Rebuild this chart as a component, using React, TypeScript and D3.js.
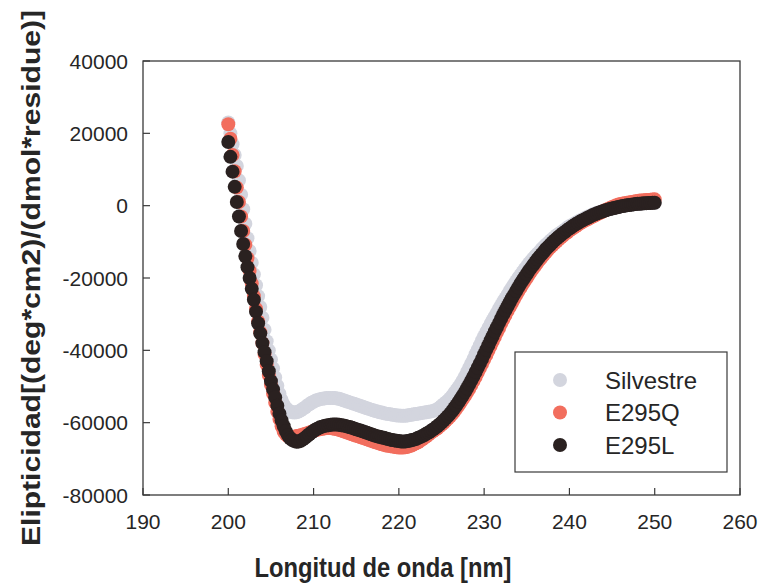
import * as d3 from 'd3';

// wavelength grid of the spectra (nm)
const wlStart = 200;
const wlStep = 0.25;

const xTicks = [190, 200, 210, 220, 230, 240, 250, 260];
const yTicks = [40000, 20000, 0, -20000, -40000, -60000, -80000];

// Silvestre
const silvestre = [
  23000, 20000, 17000, 14000,
  11000, 7000, 3000, -1000,
  -5000, -9000, -12500, -15800,
  -19000, -22000, -25000, -28000,
  -31000, -34300, -37500, -40000,
  -42500, -45000, -47500, -49800,
  -52000, -53700, -55000, -56000,
  -56500, -56900, -57100, -57200,
  -57100, -56900, -56600, -56200,
  -55800, -55300, -54900, -54500,
  -54200, -53900, -53700, -53500,
  -53400, -53300, -53200, -53200,
  -53200, -53200, -53200, -53300,
  -53400, -53600, -53800, -54000,
  -54200, -54400, -54600, -54800,
  -55000, -55200, -55400, -55600,
  -55800, -56000, -56200, -56400,
  -56600, -56800, -56900, -57100,
  -57200, -57400, -57500, -57600,
  -57700, -57800, -57900, -58000,
  -58000, -58100, -58100, -58100,
  -58000, -57900, -57800, -57700,
  -57600, -57500, -57400, -57300,
  -57200, -57100, -57000, -56900,
  -56800, -56600, -56300, -55900,
  -55400, -54900, -54400, -53900,
  -53300, -52600, -51800, -51000,
  -50200, -49300, -48300, -47200,
  -46000, -44800, -43600, -42400,
  -41100, -39800, -38600, -37300,
  -36100, -34900, -33800, -32700,
  -31700, -30600, -29600, -28500,
  -27500, -26500, -25600, -24600,
  -23600, -22700, -21800, -20900,
  -20000, -19200, -18400, -17600,
  -16800, -16000, -15300, -14600,
  -13900, -13300, -12700, -12000,
  -11400, -10800, -10300, -9700,
  -9200, -8700, -8200, -7800,
  -7400, -7000, -6600, -6100,
  -5700, -5400, -5100, -4700,
  -4400, -4100, -3800, -3500,
  -3200, -2900, -2700, -2400,
  -2200, -2000, -1800, -1600,
  -1400, -1200, -1050, -900,
  -750, -600, -450, -300,
  -180, -80, 30, 120,
  220, 300, 370, 440,
  500, 550, 600, 650,
  700, 720, 750, 780,
  800,
];

// E295Q
const e295q = [
  22500, 18500, 14000, 9500,
  5000, 1000, -3000, -7000,
  -10800, -14500, -18000, -21500,
  -25000, -28500, -32000, -35000,
  -38000, -41000, -44000, -46800,
  -49500, -52000, -54500, -57000,
  -59000, -61000, -62500, -63300,
  -63800, -64000, -64000, -63900,
  -63700, -63600, -63500, -63300,
  -63100, -62900, -62700, -62500,
  -62300, -62100, -61900, -61800,
  -61700, -61600, -61500, -61500,
  -61500, -61600, -61700, -61800,
  -62000, -62200, -62400, -62600,
  -62800, -63000, -63200, -63400,
  -63600, -63800, -64000, -64200,
  -64400, -64600, -64800, -65000,
  -65200, -65400, -65600, -65800,
  -66000, -66100, -66300, -66400,
  -66500, -66600, -66700, -66800,
  -66900, -66900, -66900, -66800,
  -66700, -66500, -66300, -66000,
  -65700, -65400, -65000, -64600,
  -64200, -63800, -63300, -62800,
  -62400, -62000, -61600, -61100,
  -60600, -60100, -59500, -58900,
  -58300, -57600, -56900, -56100,
  -55300, -54400, -53500, -52600,
  -51700, -50700, -49600, -48500,
  -47400, -46200, -45000, -43800,
  -42600, -41400, -40100, -38800,
  -37600, -36300, -35100, -33900,
  -32600, -31400, -30300, -29100,
  -28000, -27000, -25900, -24800,
  -23800, -22800, -21800, -20900,
  -20000, -19100, -18200, -17400,
  -16600, -15800, -15000, -14300,
  -13600, -12900, -12200, -11600,
  -11000, -10400, -9900, -9300,
  -8800, -8300, -7800, -7400,
  -6900, -6500, -6100, -5700,
  -5300, -4900, -4500, -4200,
  -3900, -3600, -3300, -3000,
  -2700, -2400, -2100, -1800,
  -1500, -1200, -900, -650,
  -400, -150, 100, 300,
  450, 600, 700, 800,
  900, 1000, 1100, 1200,
  1300, 1400, 1450, 1500,
  1550, 1600, 1650, 1700,
  1750,
];

// E295L
const e295l = [
  17600, 13500, 9400, 5200,
  1000, -3000, -7000, -10600,
  -14000, -17000, -20000, -23000,
  -26000, -29300, -32500, -35300,
  -38000, -40500, -43000, -45800,
  -48500, -50800, -53000, -55300,
  -57500, -59400, -61000, -62400,
  -63500, -64300, -64800, -65100,
  -65300, -65200, -65000, -64600,
  -64200, -63700, -63200, -62700,
  -62300, -61900, -61600, -61300,
  -61100, -60900, -60800, -60700,
  -60600, -60500, -60500, -60500,
  -60600, -60700, -60800, -60900,
  -61100, -61200, -61400, -61600,
  -61800, -62000, -62200, -62400,
  -62600, -62800, -63000, -63200,
  -63400, -63600, -63800, -63900,
  -64100, -64200, -64400, -64500,
  -64700, -64800, -64900, -65000,
  -65100, -65200, -65200, -65200,
  -65100, -65000, -64800, -64700,
  -64500, -64200, -64000, -63700,
  -63400, -63000, -62700, -62300,
  -61900, -61500, -61000, -60500,
  -60000, -59400, -58800, -58200,
  -57500, -56800, -56000, -55200,
  -54300, -53400, -52500, -51500,
  -50500, -49400, -48300, -47200,
  -46000, -44800, -43600, -42400,
  -41100, -39800, -38600, -37300,
  -36100, -34800, -33600, -32400,
  -31200, -30000, -28900, -27800,
  -26700, -25600, -24600, -23600,
  -22600, -21600, -20700, -19800,
  -18900, -18000, -17200, -16400,
  -15600, -14800, -14100, -13400,
  -12700, -12000, -11400, -10800,
  -10200, -9600, -9100, -8600,
  -8100, -7600, -7200, -6700,
  -6300, -5900, -5500, -5100,
  -4800, -4400, -4100, -3800,
  -3500, -3200, -2900, -2600,
  -2400, -2100, -1900, -1700,
  -1500, -1300, -1100, -950,
  -800, -650, -500, -350,
  -200, -100, 0, 100,
  200, 280, 350, 430,
  500, 550, 600, 650,
  700, 730, 750, 780,
  800,
];

const seriesNames = ['Silvestre', 'E295Q', 'E295L'];
const seriesColors = ['#d3d5de', '#f26e5e', '#2a2120'];
const seriesValues = [silvestre, e295q, e295l];

const W = 767;
const H = 586;
const font = '"Liberation Sans", Arial, Helvetica, sans-serif';
const ink = '#262626';

export default function App() {
  const x = d3.scaleLinear().domain([190, 260]).range([143, 740]);
  const y = d3.scaleLinear().domain([-80000, 40000]).range([495, 61]);
  const [x0, x1] = x.range();
  const [y0, y1] = y.range();

  return (
    <svg
      width={W}
      height={H}
      viewBox={`0 0 ${W} ${H}`}
      style={{ position: 'absolute', left: 0, top: 0, background: '#fff' }}
    >
      {/* points */}
      {seriesValues.map((vals, si) => (
        <g key={seriesNames[si]} fill={seriesColors[si]}>
          {vals.map((v, i) => (
            <circle key={i} cx={x(wlStart + i * wlStep)} cy={y(v)} r={7} />
          ))}
        </g>
      ))}

      {/* frame */}
      <rect x={x0} y={y1} width={x1 - x0} height={y0 - y1} fill="none" stroke="#3a3a3a" strokeWidth={1.3} />

      {/* x axis */}
      {xTicks.map((t) => (
        <g key={`xt-${t}`} transform={`translate(${x(t)},${y0})`}>
          <line y1={0} y2={-7} stroke="#3a3a3a" strokeWidth={1.2} />
          <text y={34} textAnchor="middle" fontSize={21} fontFamily={font} fill={ink}>
            {t}
          </text>
        </g>
      ))}
      <text
        x={383}
        y={577}
        textAnchor="middle"
        fontSize={28}
        fontWeight="bold"
        fontFamily={font}
        fill={ink}
        textLength={257}
        lengthAdjust="spacingAndGlyphs"
      >
        Longitud de onda [nm]
      </text>

      {/* y axis */}
      {yTicks.map((t) => (
        <g key={`yt-${t}`} transform={`translate(${x0},${y(t)})`}>
          <line x1={0} x2={7} stroke="#3a3a3a" strokeWidth={1.2} />
          <text x={-15} dy="0.36em" textAnchor="end" fontSize={21} fontFamily={font} fill={ink}>
            {t}
          </text>
        </g>
      ))}
      <text
        transform={`translate(40,278) rotate(-90)`}
        textAnchor="middle"
        fontSize={25}
        fontWeight="bold"
        fontFamily={font}
        fill={ink}
        textLength={536}
        lengthAdjust="spacingAndGlyphs"
      >
        Elipticidad[(deg*cm2)/(dmol*residue)]
      </text>

      {/* legend */}
      <g>
        <rect x={515} y={352} width={212} height={120} fill="#fff" stroke="#3a3a3a" strokeWidth={1.2} />
        {seriesNames.map((name, i) => (
          <g key={`lg-${name}`} transform={`translate(560,${380 + i * 32.5})`}>
            <circle r={7} fill={seriesColors[i]} />
            <text x={45} dy="0.36em" fontSize={24} fontFamily={font} fill={ink}>
              {name}
            </text>
          </g>
        ))}
      </g>
    </svg>
  );
}
